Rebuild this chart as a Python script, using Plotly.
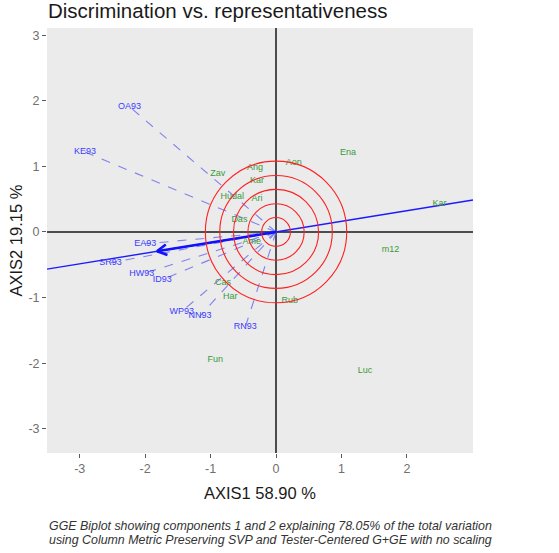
import math
import plotly.graph_objects as go

# ---- data ----
gen_names = ["Ena", "Aon", "Ang", "Zav", "Kar", "Hudal", "Ari", "Das", "Ame",
             "Kar", "m12", "Cas", "Har", "Rub", "Fun", "Luc"]
gen_x = [1.10, 0.27, -0.32, -0.89, -0.29, -0.67, -0.29, -0.56, -0.37,
         2.50, 1.75, -0.81, -0.70, 0.21, -0.93, 1.36]
gen_y = [1.21, 1.05, 0.98, 0.89, 0.78, 0.53, 0.50, 0.18, -0.15,
         0.43, -0.27, -0.78, -0.98, -1.05, -1.95, -2.12]

env_names = ["OA93", "KE93", "EA93", "SR93", "HW93", "ID93", "WP93", "NN93", "RN93"]
env_x = [-2.24, -2.92, -2.00, -2.53, -2.05, -1.74, -1.44, -1.16, -0.47]
env_y = [1.91, 1.22, -0.18, -0.47, -0.64, -0.73, -1.21, -1.28, -1.45]

aea_x = -1.82
aea_y = -0.295
circle_radii = [0.22, 0.43, 0.65, 0.86, 1.08]

x_range = [-3.50, 3.01]
y_range = [-3.37, 3.11]
x_ticks = [-3, -2, -1, 0, 1, 2]
x_tick_labels = ["-3", "-2", "-1", "0", "1", "2"]
y_ticks = [-3, -2, -1, 0, 1, 2, 3]
y_tick_labels = ["-3", "-2", "-1", "0", "1", "2", "3"]

title_text = "Discrimination vs. representativeness"
x_title = "AXIS1 58.90 %"
y_title = "AXIS2 19.15 %"
caption_lines = ["GGE Biplot showing components 1 and 2 explaining 78.05% of the total variation",
                 "using Column Metric Preserving SVP and Tester-Centered G+GE with no scaling"]

FONT = "Liberation Sans, Arial, sans-serif"
W, H = 559, 553
fig = go.Figure()

# dashed lines from origin to testers
lx, ly = [], []
for ex, ey in zip(env_x, env_y):
    lx += [0, ex, None]
    ly += [0, ey, None]
fig.add_trace(go.Scatter(x=lx, y=ly, mode="lines",
                         line=dict(color="rgba(110,110,240,0.85)", width=1.1, dash="dash"),
                         hoverinfo="skip", showlegend=False))

# average environment axis (full line)
slope = aea_y / aea_x
fig.add_trace(go.Scatter(x=x_range, y=[slope * v for v in x_range], mode="lines",
                         line=dict(color="#1a1aff", width=1.4),
                         hoverinfo="skip", showlegend=False))

# arrow to the average environment
ang = math.atan2(aea_y, aea_x)
head = 0.17
hx, hy = [], []
for d in (math.radians(28), -math.radians(28)):
    hx += [aea_x, aea_x - head * math.cos(ang + d), None]
    hy += [aea_y, aea_y - head * math.sin(ang + d), None]
fig.add_trace(go.Scatter(x=[0, aea_x, None] + hx, y=[0, aea_y, None] + hy, mode="lines",
                         line=dict(color="#1010ff", width=2.6),
                         hoverinfo="skip", showlegend=False))

# genotype labels
fig.add_trace(go.Scatter(x=gen_x, y=gen_y, mode="text", text=gen_names,
                         textfont=dict(color="#3a9a3a", size=9, family=FONT),
                         hoverinfo="skip", showlegend=False))
# tester labels
fig.add_trace(go.Scatter(x=env_x, y=env_y, mode="text", text=env_names,
                         textfont=dict(color="#3c3cff", size=9, family=FONT),
                         hoverinfo="skip", showlegend=False))

shapes = []
for r in circle_radii:
    shapes.append(dict(type="circle", xref="x", yref="y", x0=-r, y0=-r, x1=r, y1=r,
                       line=dict(color="#ff2020", width=1.1), layer="above"))

axis_common = dict(showgrid=False, ticks="outside", ticklen=4, tickcolor="#5a5a5a",
                   tickfont=dict(size=12.5, color="#707070", family=FONT),
                   zeroline=True, zerolinecolor="#4d4d4d", zerolinewidth=1.6,
                   showline=False, mirror=False)

plot_h = H - 28 - 100
annotations = [
    dict(text=x_title, xref="paper", yref="paper", x=0.5, y=-(493 - 453) / plot_h,
         xanchor="center", yanchor="middle", showarrow=False,
         font=dict(size=16.5, color="#1a1a1a", family=FONT)),
    dict(text=y_title, xref="paper", yref="paper", x=-0.075, y=0.5,
         xanchor="center", yanchor="middle", showarrow=False, textangle=-90,
         font=dict(size=16.5, color="#1a1a1a", family=FONT)),
]
for i, line in enumerate(caption_lines):
    annotations.append(dict(text="<i>" + line + "</i>", xref="paper", yref="paper",
                            x=0, y=-(526 + 13.5 * i - 453) / plot_h,
                            xanchor="left", yanchor="middle", align="left", showarrow=False,
                            font=dict(size=12.4, color="#333333", family=FONT)))

fig.update_layout(
    width=W, height=H,
    margin=dict(l=47, r=86, t=28, b=100),
    paper_bgcolor="white", plot_bgcolor="#EBEBEB",
    font=dict(family=FONT),
    xaxis=dict(range=x_range, tickvals=x_ticks, ticktext=x_tick_labels, **axis_common),
    yaxis=dict(range=y_range, tickvals=y_ticks, ticktext=y_tick_labels, **axis_common),
    shapes=shapes,
    title=dict(text=title_text, x=48 / W, xanchor="left", xref="container",
               y=1 - 11 / H, yanchor="middle", yref="container",
               font=dict(size=20.5, color="#1a1a1a", family=FONT)),
    annotations=annotations,
)

fig.write_html("out.html", config={"displayModeBar": False},
               post_script="document.body.style.margin='0';document.body.style.overflow='hidden';")
